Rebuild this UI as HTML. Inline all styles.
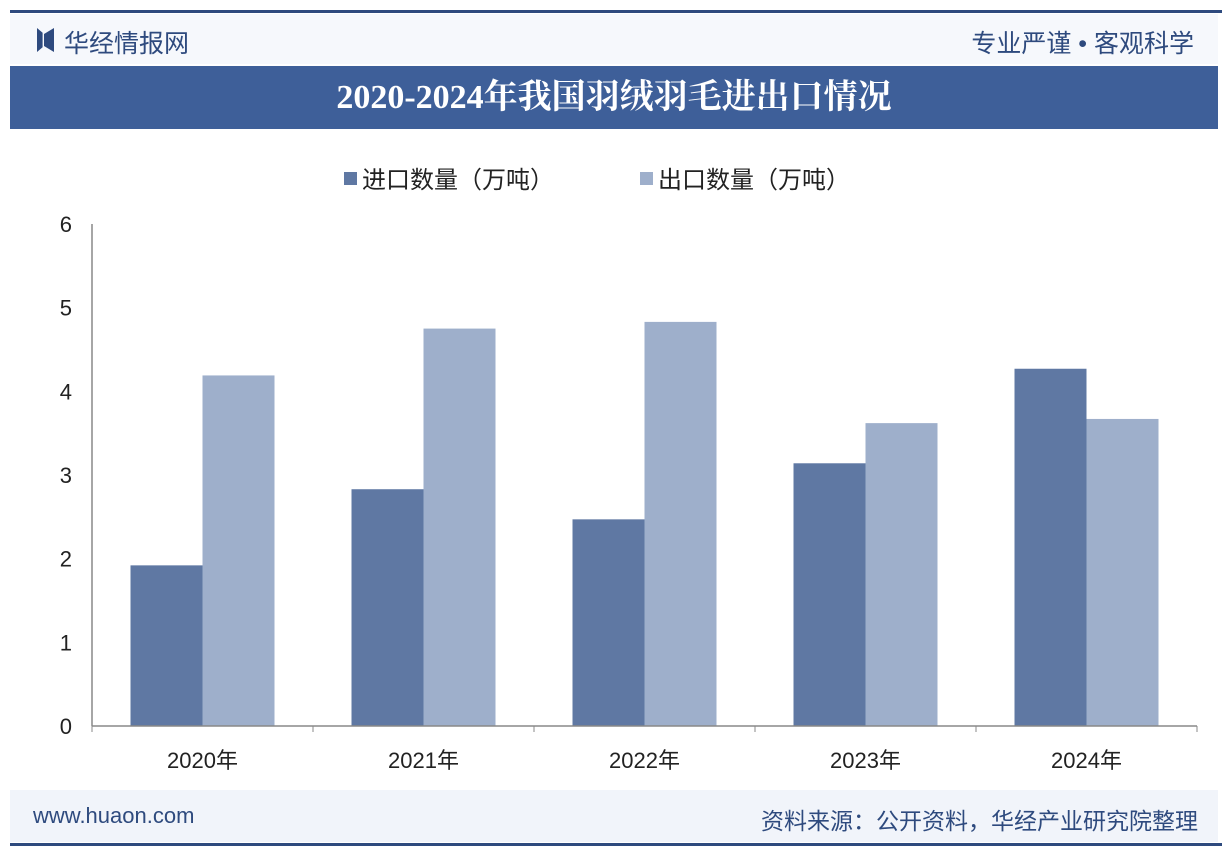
<!DOCTYPE html>
<html><head><meta charset="utf-8"><style>
body{margin:0;width:1232px;height:860px;background:#fff;overflow:hidden;font-family:"Liberation Sans","Noto Sans CJK SC",sans-serif;position:relative}
.abs{position:absolute}
</style></head><body>
<div class="abs" style="left:10px;top:10px;width:1212px;height:3px;background:#2e4a7e"></div>
<div class="abs" style="left:10px;top:14px;width:1208px;height:50px;background:#f6f8fc"></div>
<div class="abs" style="left:37px;top:28px;width:14px;height:24px;background:#2e4a7e;clip-path:polygon(0 0,40% 20%,40% 80%,0 100%)"></div>
<div class="abs" style="left:44px;top:28px;width:10px;height:24px;background:#2e4a7e;clip-path:polygon(100% 0,0 25%,0 75%,100% 100%)"></div>
<div class="abs" style="left:64px;top:24px;font-size:25px;color:#2e4a7e">华经情报网</div>
<div class="abs" style="right:38px;top:24px;font-size:25px;color:#2e4a7e">专业严谨 • 客观科学</div>
<div class="abs" style="left:10px;top:66px;width:1208px;height:63px;background:#3e5f99;color:#fff;font-family:'Liberation Serif','Noto Serif CJK SC',serif;font-weight:bold;font-size:34px;text-align:center;line-height:63px">2020-2024年我国羽绒羽毛进出口情况</div>
<div class="abs" style="left:10px;top:790px;width:1208px;height:52px;background:#f1f4fa"></div>
<div class="abs" style="left:33px;top:803px;font-size:22px;color:#2e4a7e">www.huaon.com</div>
<div class="abs" style="right:34px;top:802px;font-size:23px;color:#2e4a7e">资料来源：公开资料，华经产业研究院整理</div>
<div class="abs" style="left:10px;top:843px;width:1212px;height:3px;background:#2e4a7e"></div>
<svg id="chart" class="abs" style="left:0;top:0" width="1232" height="860"></svg>
<script>
const categories=["2020年","2021年","2022年","2023年","2024年"];
const importVals=[1.92,2.83,2.47,3.14,4.27];
const exportVals=[4.19,4.75,4.83,3.62,3.67];
const yTicks=[0,1,2,3,4,5,6];
const seriesNames=["进口数量（万吨）","出口数量（万吨）"];
const svg=document.getElementById('chart');const NS="http://www.w3.org/2000/svg";
const X0=92,X1=1197,Y0=726,Y1=224,YMAX=6;
const y=v=>Y0-(Y0-Y1)*v/YMAX;const band=(X1-X0)/categories.length;const bw=72;
function mk(t,a,p){const e=document.createElementNS(NS,t);for(const k in a)e.setAttribute(k,a[k]);(p||svg).appendChild(e);return e;}
const colors=["#5f78a3","#9eafcb"];
yTicks.forEach(t=>{const e=mk('text',{x:72,y:y(t)+8,'text-anchor':'end','font-size':22,fill:'#222','font-family':'Liberation Sans'});e.textContent=t;

});
categories.forEach((c,i)=>{const cx=X0+band*(i+0.5);
const a=mk('rect',{x:cx-bw,y:y(importVals[i]),width:bw,height:Y0-y(importVals[i]),fill:colors[0]});


const b=mk('rect',{x:cx,y:y(exportVals[i]),width:bw,height:Y0-y(exportVals[i]),fill:colors[1]});


const t=mk('text',{x:cx,y:768,'text-anchor':'middle','font-size':22,fill:'#222','font-family':'Liberation Sans, Noto Sans CJK SC'});t.textContent=c;

});
for(let i=0;i<=categories.length;i++){const l=mk('line',{x1:X0+band*i,x2:X0+band*i,y1:Y0,y2:Y0+6,stroke:'#888'});

}
const ax=mk('line',{x1:X0,x2:X1,y1:Y0,y2:Y0,stroke:'#888','stroke-width':1.5});


const ay=mk('line',{x1:X0,x2:X0,y1:Y1,y2:Y0,stroke:'#888','stroke-width':1.5});


[0,1].forEach(i=>{const lx=[344,640][i];
const r=mk('rect',{x:lx,y:172,width:13,height:13,fill:colors[i]});


const t=mk('text',{x:lx+18,y:188,'font-size':24,fill:'#222','font-family':'Liberation Sans, Noto Sans CJK SC'});t.textContent=seriesNames[i];

});
</script>
</body></html>
